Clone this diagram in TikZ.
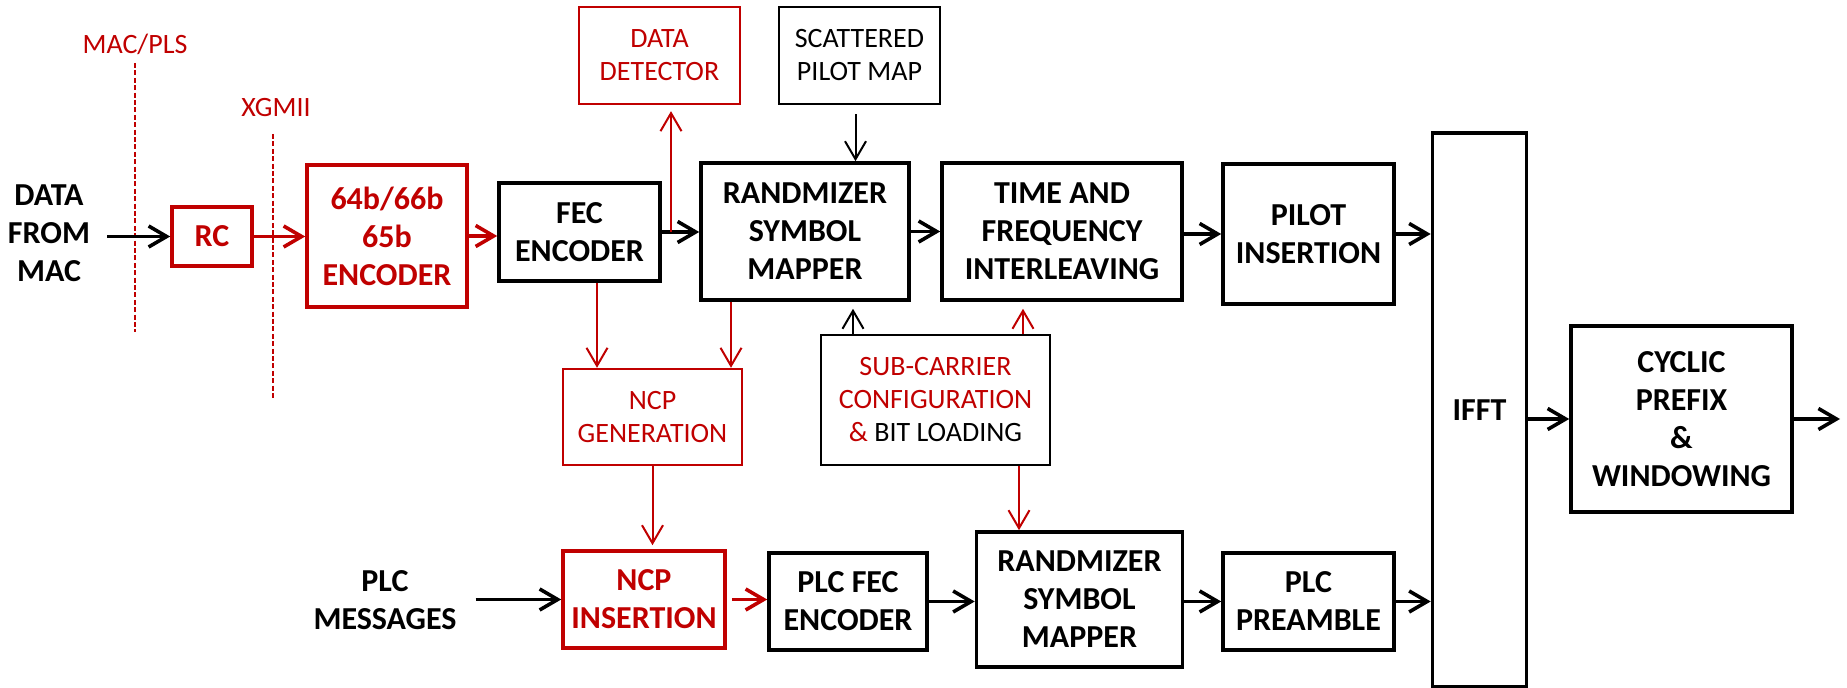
\documentclass[tikz,border=0pt]{standalone}
\usepackage{fontspec}
\setmainfont{Carlito}
\usetikzlibrary{arrows.meta}
\definecolor{ncpred}{RGB}{192,0,0}

\begin{document}
\begin{tikzpicture}[
    x=0.5pt, y=-0.5pt,
    >={Straight Barb[length=9pt,width=10.5pt]},
    blk/.style={draw, line width=1.8pt, align=center, inner sep=0pt,
      font=\fontsize{16}{19}\selectfont\bfseries},
    redblk/.style={blk, draw=ncpred, text=ncpred},
    lite/.style={draw, line width=1.2pt, align=center, inner sep=0pt,
      font=\fontsize{14}{16.5}\selectfont},
    redlite/.style={lite, draw=ncpred, text=ncpred},
    tag/.style={align=center, font=\fontsize{16}{19}\selectfont\bfseries},
    redtag/.style={text=ncpred, font=\fontsize{14}{16.5}\selectfont},
    flow/.style={line width=1.8pt, ->},
    redflow/.style={flow, draw=ncpred},
    feed/.style={line width=1pt, ->},
    redfeed/.style={feed, draw=ncpred},
    bound/.style={ncpred, line width=0.8pt, dash pattern=on 2.5pt off 1.2pt}
    ]
    \useasboundingbox (0,0) rectangle (1847,688);

    % interface boundaries
    \node[redtag] (macpls) at (135,44) {MAC/PLS};
    \node[redtag] (xgmii) at (276,108) {XGMII};
    \draw[bound] (135,63) -- (135,332);
    \draw[bound] (273,134) -- (273,400);

    % data path
    \node[tag] (data) at (49,233) {DATA\\FROM\\MAC};
    \node[redblk, minimum width=40pt, minimum height=29.5pt] (rc) at (212,236.5) {RC};
    \node[redblk, minimum width=80pt, minimum height=71pt] (enc) at (387,236) {64b/66b\\65b\\ENCODER};
    \node[blk, minimum width=80.5pt, minimum height=49pt] (fec) at (579.5,232) {FEC\\ENCODER};
    \node[redlite, minimum width=80.5pt, minimum height=48.5pt] (det) at (659.5,55.5) {DATA\\DETECTOR};
    \node[lite, minimum width=80.5pt, minimum height=48.5pt] (spm) at (859.5,55.5) {SCATTERED\\PILOT MAP};
    \node[blk, minimum width=104pt, minimum height=68.5pt] (rand) at (805,231.5) {RANDMIZER\\SYMBOL\\MAPPER};
    \node[blk, minimum width=120pt, minimum height=68.5pt] (tfi) at (1062,231.5) {TIME AND\\FREQUENCY\\INTERLEAVING};
    \node[blk, minimum width=85.5pt, minimum height=70pt] (pil) at (1308.5,234) {PILOT\\INSERTION};
    \node[blk, minimum width=47pt, minimum height=277pt] (ifft) at (1479.5,410) {IFFT};
    \node[blk, minimum width=110.5pt, minimum height=93pt] (cp) at (1681.5,419) {CYCLIC\\PREFIX\\\&\\WINDOWING};
    \node[redlite, minimum width=89.5pt, minimum height=48pt] (ncpg) at (652.5,417) {NCP\\GENERATION};
    \node[lite, minimum width=114.5pt, minimum height=65pt] (sub) at (935.5,400)
      {{\color{ncpred}SUB-CARRIER}\\{\color{ncpred}CONFIGURATION}\\{\color{ncpred}\&} BIT LOADING};

    % plc path
    \node[tag] (msgs) at (385,600) {PLC\\MESSAGES};
    \node[redblk, minimum width=81pt, minimum height=48.5pt] (ncpi) at (644,599.5) {NCP\\INSERTION};
    \node[blk, minimum width=79pt, minimum height=48.5pt] (pfec) at (848,601.5) {PLC FEC\\ENCODER};
    \node[blk, minimum width=103pt, minimum height=67.5pt] (rand2) at (1079.5,599.5) {RANDMIZER\\SYMBOL\\MAPPER};
    \node[blk, minimum width=85.5pt, minimum height=48.5pt] (pre) at (1308.5,601.5) {PLC\\PREAMBLE};

    \coordinate (tap) at (671,232);
    \coordinate (out) at (1840,419);

    \draw[flow, shorten <=5pt] (data.east |- rc.west) -- (rc.west);
    \draw[redflow] (rc.east) -- (enc.west |- rc.east);
    \draw[redflow] (enc.east) -- (fec.west |- enc.east);
    \draw[flow] (fec.east) -- (rand.west |- fec.east);
    \draw[redfeed, shorten >=3pt] (tap) -- (tap |- det.south);
    \draw[feed, shorten <=4.5pt] ([xshift=-2pt]spm.south) -- ([xshift=-2pt]spm.south |- rand.north);
    \draw[flow] (rand.east) -- (tfi.west |- rand.east);
    \draw[flow] (tfi.east |- pil.west) -- (pil.west);
    \draw[flow] (pil.east) -- (pil.east -| ifft.west);
    \draw[flow] (ifft.east |- cp.west) -- (cp.west);
    \draw[flow] (cp.east) -- (out);
    \draw[redfeed] ([xshift=8.75pt]fec.south) -- ([xshift=8.75pt]fec.south |- ncpg.north);
    \draw[redfeed] ([xshift=-37pt]rand.south) -- ([xshift=-37pt]rand.south |- ncpg.north);
    \draw[feed, shorten >=3.5pt] ([xshift=-41.25pt]sub.north) -- ([xshift=-41.25pt]sub.north |- rand.south);
    \draw[redfeed, shorten >=3.5pt] ([xshift=43.75pt]sub.north) -- ([xshift=43.75pt]sub.north |- tfi.south);
    \draw[redfeed] ([xshift=41.75pt]sub.south) -- ([xshift=41.75pt]sub.south |- rand2.north);
    \draw[redfeed, shorten >=2pt] (ncpg.south) -- (ncpg.south |- ncpi.north);
    \draw[flow, shorten <=6pt] (msgs.east |- ncpi.west) -- (ncpi.west);
    \draw[redflow, shorten <=2.5pt] (ncpi.east) -- (pfec.west |- ncpi.east);
    \draw[flow] (pfec.east) -- (rand2.west |- pfec.east);
    \draw[flow] (rand2.east |- pre.west) -- (pre.west);
    \draw[flow] (pre.east) -- (pre.east -| ifft.west);
  \end{tikzpicture}
\end{document}
